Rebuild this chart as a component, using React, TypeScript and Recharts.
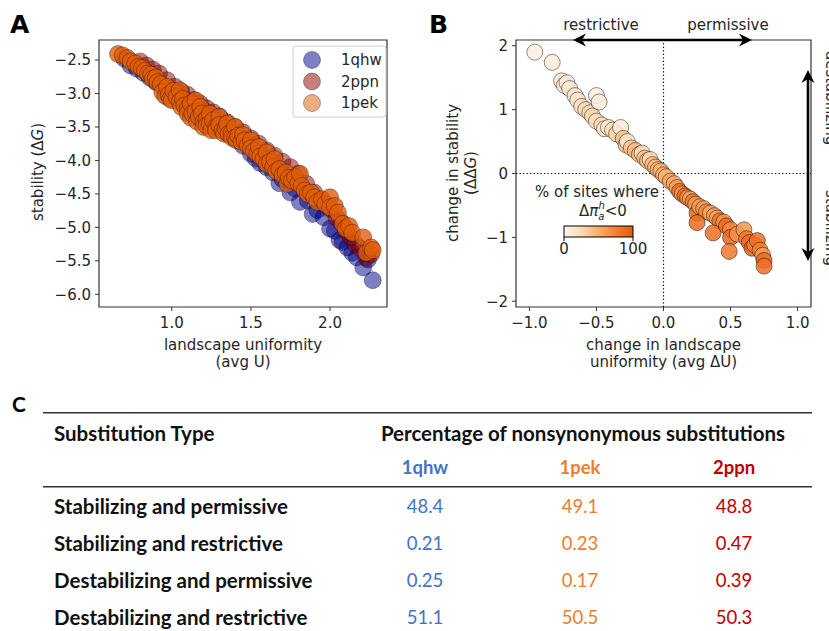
import React from 'react';
import { ScatterChart, Scatter, XAxis, YAxis, ReferenceLine, ReferenceArea } from 'recharts';

// ---------- Panel A data: [avg U, ΔG] ----------
const seriesNames = ['1qhw', '2ppn', '1pek'];
const seriesColors = ['#00008b', '#8b0000', '#e05c08'];

const qhwPoints: [number, number][] = [
  [0.70, -2.48], [0.74, -2.58], [0.78, -2.63], [0.82, -2.69], [0.86, -2.76], [0.90, -2.83], [0.95, -2.93],
  [1.00, -3.02], [1.05, -3.12], [1.10, -3.22], [1.15, -3.30], [1.20, -3.38], [1.25, -3.45], [1.30, -3.52],
  [1.35, -3.60], [1.40, -3.68], [1.45, -3.78], [1.50, -3.90], [1.53, -3.97], [1.56, -4.04], [1.60, -4.10],
  [1.64, -4.18], [1.68, -4.34], [1.70, -4.28], [1.75, -4.48], [1.78, -4.42], [1.81, -4.62], [1.86, -4.60],
  [1.89, -4.80], [1.92, -4.74], [1.96, -4.85], [2.00, -5.02], [2.03, -5.05], [2.06, -5.19], [2.08, -5.22],
  [2.11, -5.30], [2.14, -5.38], [2.17, -5.45], [2.21, -5.60], [2.24, -5.48], [2.27, -5.79],
];

const ppnPoints: [number, number][] = [
  [0.80, -2.52], [0.84, -2.58], [0.88, -2.64], [0.92, -2.70], [0.97, -2.80], [1.02, -2.90], [1.06, -2.97],
  [1.10, -3.02], [1.14, -3.10], [1.18, -3.15], [1.22, -3.22], [1.26, -3.28], [1.30, -3.34], [1.35, -3.43],
  [1.40, -3.50], [1.45, -3.58], [1.50, -3.67], [1.55, -3.75], [1.60, -3.85], [1.65, -3.93], [1.70, -4.02],
  [1.75, -4.10], [1.80, -4.20], [1.85, -4.35], [1.90, -4.48], [1.95, -4.60], [2.00, -4.72], [2.04, -4.85],
  [2.07, -4.92], [2.10, -5.05], [2.13, -5.15], [2.16, -5.25], [2.19, -5.31], [2.23, -5.45], [2.26, -5.40],
];

const pekPoints: [number, number][] = [
  [0.66, -2.41], [0.69, -2.43], [0.72, -2.47], [0.74, -2.52], [0.77, -2.55], [0.79, -2.60], [0.81, -2.62],
  [0.83, -2.66], [0.85, -2.70], [0.87, -2.72], [0.88, -2.78], [0.90, -2.76], [0.91, -2.83], [0.93, -2.86],
  [0.94, -2.98], [0.96, -3.04], [0.97, -2.90], [0.98, -3.02], [0.99, -3.08], [1.00, -3.10], [1.01, -2.96],
  [1.03, -3.05], [1.05, -2.95], [1.05, -3.12], [1.06, -3.20], [1.07, -3.08], [1.08, -3.18], [1.10, -3.22],
  [1.10, -3.30], [1.12, -3.15], [1.12, -3.36], [1.13, -3.30], [1.15, -3.10], [1.15, -3.27], [1.16, -3.42],
  [1.17, -3.35], [1.18, -3.20], [1.19, -3.30], [1.20, -3.42], [1.20, -3.50], [1.22, -3.38], [1.22, -3.48],
  [1.24, -3.30], [1.24, -3.45], [1.25, -3.55], [1.26, -3.40], [1.28, -3.50], [1.28, -3.55], [1.30, -3.35],
  [1.30, -3.47], [1.32, -3.55], [1.33, -3.60], [1.34, -3.52], [1.35, -3.45], [1.36, -3.60], [1.38, -3.58],
  [1.38, -3.66], [1.40, -3.50], [1.40, -3.66], [1.41, -3.70], [1.42, -3.63], [1.44, -3.72], [1.45, -3.62],
  [1.46, -3.70], [1.48, -3.78], [1.50, -3.70], [1.50, -3.82], [1.52, -3.86], [1.54, -3.90], [1.55, -3.80],
  [1.56, -3.94], [1.58, -3.98], [1.60, -3.88], [1.60, -4.05], [1.62, -4.02], [1.64, -4.10], [1.65, -3.98],
  [1.66, -4.16], [1.68, -4.13], [1.70, -4.22], [1.72, -4.18], [1.73, -4.35], [1.74, -4.26], [1.76, -4.30],
  [1.78, -4.25], [1.80, -4.34], [1.81, -4.20], [1.82, -4.38], [1.84, -4.45], [1.86, -4.50], [1.88, -4.48],
  [1.90, -4.55], [1.92, -4.62], [1.95, -4.58], [1.97, -4.65], [2.00, -4.55], [2.00, -4.70], [2.03, -4.68],
  [2.05, -4.78], [2.08, -4.95], [2.10, -5.02], [2.12, -4.98], [2.14, -5.08], [2.21, -5.15], [2.23, -5.38],
  [2.26, -5.30], [2.27, -5.34],
];

const aXTicks = [1.0, 1.5, 2.0];
const aYTicks = [-6.0, -5.5, -5.0, -4.5, -4.0, -3.5, -3.0, -2.5];

// ---------- Panel B data: [avg ΔU, ΔΔG, % of sites where Δπ<0] ----------
const bPoints: [number, number, number][] = [
  [-0.96, 1.90, 5], [-0.83, 1.74, 8], [-0.76, 1.45, 10], [-0.74, 1.38, 12], [-0.72, 1.42, 6], [-0.70, 1.33, 15],
  [-0.66, 1.22, 12], [-0.64, 1.15, 18], [-0.61, 1.05, 20], [-0.58, 1.00, 25], [-0.55, 0.95, 22], [-0.53, 0.90, 28],
  [-0.50, 1.22, 5], [-0.48, 1.12, 8], [-0.50, 0.82, 20], [-0.46, 0.76, 25], [-0.44, 0.70, 18], [-0.41, 0.72, 10],
  [-0.38, 0.68, 22], [-0.35, 0.62, 30], [-0.32, 0.72, 8], [-0.30, 0.55, 40], [-0.28, 0.45, 42], [-0.27, 0.50, 12],
  [-0.24, 0.40, 38], [-0.21, 0.36, 42], [-0.18, 0.30, 45], [-0.16, 0.32, 20], [-0.14, 0.24, 40], [-0.12, 0.20, 44],
  [-0.10, 0.22, 25], [-0.08, 0.14, 42], [-0.06, 0.10, 46], [-0.04, 0.06, 45], [-0.02, 0.04, 48], [0.00, -0.02, 50],
  [0.02, -0.05, 48], [0.05, -0.12, 55], [0.08, -0.16, 52], [0.10, -0.22, 60], [0.12, -0.28, 85], [0.14, -0.32, 58],
  [0.16, -0.35, 90], [0.18, -0.38, 65], [0.20, -0.40, 55], [0.22, -0.44, 80], [0.24, -0.48, 62], [0.25, -0.62, 90],
  [0.27, -0.52, 60], [0.30, -0.55, 58], [0.32, -0.60, 70], [0.35, -0.62, 55], [0.38, -0.66, 60], [0.40, -0.70, 55],
  [0.42, -0.74, 85], [0.45, -0.76, 62], [0.25, -0.77, 88], [0.37, -0.93, 85], [0.47, -0.82, 90], [0.50, -0.88, 70],
  [0.50, -1.00, 92], [0.55, -0.95, 65], [0.60, -0.88, 62], [0.62, -1.02, 80], [0.64, -1.08, 88], [0.66, -1.17, 95],
  [0.68, -1.12, 70], [0.70, -1.05, 85], [0.72, -1.20, 75], [0.74, -1.28, 60], [0.75, -1.36, 90], [0.75, -1.45, 85],
  [0.49, -1.22, 80],
];

const bXTicks = [-1.0, -0.5, 0.0, 0.5, 1.0];
const bYTicks = [-2, -1, 0, 1, 2];
const colorbarTicks = [0, 100];

// ---------- Panel C table ----------
const tableRowLabels = [
  'Stabilizing and permissive',
  'Stabilizing and restrictive',
  'Destabilizing and permissive',
  'Destabilizing and restrictive',
];
const tableColumns = ['1qhw', '1pek', '2ppn'];
const tableColumnColors = ['#4472c4', '#ed7d31', '#c00000'];
const values1qhw = ['48.4', '0.21', '0.25', '51.1'];
const values1pek = ['49.1', '0.23', '0.17', '50.5'];
const values2ppn = ['48.8', '0.47', '0.39', '50.3'];

// ---------- helpers ----------
const FONT = 'DejaVu Sans';
const TXT = '#262626';
const cmapStops: [number, string][] = [
  [0, '#fff5eb'], [0.25, '#fddab6'], [0.5, '#fcae6c'], [0.75, '#f47f33'], [1, '#e25a12'],
];
function hexToRgb(h: string) {
  return [parseInt(h.slice(1, 3), 16), parseInt(h.slice(3, 5), 16), parseInt(h.slice(5, 7), 16)];
}
function cmap(t: number) {
  const v = Math.max(0, Math.min(1, t));
  for (let i = 1; i < cmapStops.length; i++) {
    if (v <= cmapStops[i][0]) {
      const [t0, c0] = cmapStops[i - 1];
      const [t1, c1] = cmapStops[i];
      const f = (v - t0) / (t1 - t0);
      const a = hexToRgb(c0), b = hexToRgb(c1);
      const r = a.map((x, k) => Math.round(x + (b[k] - x) * f));
      return `rgb(${r[0]},${r[1]},${r[2]})`;
    }
  }
  return cmapStops[cmapStops.length - 1][1];
}
const fmt = (d: number) => (v: number) => v.toFixed(d).replace('-', '\u2212');
const toXY = (arr: [number, number][]) => arr.map(([x, y]) => ({ x, y }));
const seriesOpacity = [0.5, 0.5, 0.78];

const makeDot = (fill: string, op: number) => (props: any) =>
  props.cx == null ? <g /> : (
    <circle cx={props.cx} cy={props.cy} r={8.5} fill={fill} fillOpacity={op}
      stroke="#000" strokeOpacity={0.4} strokeWidth={0.8} />
  );
const bDot = (props: any) =>
  props.cx == null ? <g /> : (
    <circle cx={props.cx} cy={props.cy} r={8} fill={cmap(props.payload.p / 100)} fillOpacity={0.85}
      stroke="#000" strokeOpacity={0.5} strokeWidth={0.9} />
  );

const tickStyle = { fill: TXT, fontSize: 15, fontFamily: FONT };
const frameColor = '#333';

function arrowHead(tx: number, ty: number, dx: number, dy: number) {
  const L = 13, W = 6.5, notch = 4;
  const px = -dy, py = dx;
  const bx = tx - dx * L, by = ty - dy * L;
  const nx = tx - dx * (L - notch), ny = ty - dy * (L - notch);
  return `${tx},${ty} ${bx + px * W},${by + py * W} ${nx},${ny} ${bx - px * W},${by - py * W}`;
}

export default function App() {
  const aSeries = [toXY(qhwPoints), toXY(ppnPoints), toXY(pekPoints)];
  const bData = bPoints.map(([x, y, p]) => ({ x, y, p }));
  const colValues = [values1qhw, values1pek, values2ppn];
  const colX = [425, 580, 734];
  const rowY = [506, 543, 580, 617];

  return (
    <div style={{ position: 'absolute', left: 0, top: 0, width: 829, height: 631, background: '#fff', overflow: 'hidden' }}>
      {/* Panel A */}
      <div style={{ position: 'absolute', left: 0, top: 0 }}>
        <ScatterChart width={400} height={380} margin={{ top: 40, right: 13, bottom: 0, left: 0 }}>
          <XAxis type="number" dataKey="x" domain={[0.54, 2.36]} ticks={aXTicks} allowDataOverflow
            tickFormatter={fmt(1)} tick={tickStyle} tickSize={4} tickMargin={6} height={73}
            axisLine={false} tickLine={{ stroke: frameColor }} />
          <YAxis type="number" dataKey="y" domain={[-6.19, -2.2]} ticks={aYTicks} allowDataOverflow
            tickFormatter={fmt(1)} tick={tickStyle} tickSize={4} tickMargin={4} width={99}
            axisLine={false} tickLine={{ stroke: frameColor }} />
          <ReferenceArea x1={0.54} x2={2.36} y1={-6.19} y2={-2.2} fill="none" stroke={frameColor} strokeWidth={1.2} />
          {aSeries.map((d, i) => (
            <Scatter key={seriesNames[i]} name={seriesNames[i]} data={d} shape={makeDot(seriesColors[i], seriesOpacity[i])} isAnimationActive={false} />
          ))}
        </ScatterChart>
      </div>

      {/* Panel B */}
      <div style={{ position: 'absolute', left: 410, top: 0 }}>
        <ScatterChart width={419} height={380} margin={{ top: 40, right: 18, bottom: 0, left: 0 }}>
          <XAxis type="number" dataKey="x" domain={[-1.1, 1.1]} ticks={bXTicks} allowDataOverflow
            tickFormatter={fmt(1)} tick={tickStyle} tickSize={4} tickMargin={6} height={73}
            axisLine={false} tickLine={{ stroke: frameColor }} />
          <YAxis type="number" dataKey="y" domain={[-2.09, 2.09]} ticks={bYTicks} allowDataOverflow
            tickFormatter={fmt(0)} tick={tickStyle} tickSize={4} tickMargin={4} width={106}
            axisLine={false} tickLine={{ stroke: frameColor }} />
          <ReferenceArea x1={-1.1} x2={1.1} y1={-2.09} y2={2.09} fill="none" stroke={frameColor} strokeWidth={1.2} />
          <ReferenceLine x={0} stroke="#000" strokeWidth={1.2} strokeDasharray="1.3 2.2" />
          <ReferenceLine y={0} stroke="#000" strokeWidth={1.2} strokeDasharray="1.3 2.2" />
          <Scatter name="sites" data={bData} shape={bDot} isAnimationActive={false} />
        </ScatterChart>
      </div>

      {/* Overlay: panel letters, axis labels, legend, colorbar, arrows, table */}
      <svg width={829} height={631} style={{ position: 'absolute', left: 0, top: 0, pointerEvents: 'none' }}>
        <defs>
          <linearGradient id="cbar" x1="0" x2="1" y1="0" y2="0">
            {cmapStops.map(([t, c]) => <stop key={t} offset={t} stopColor={c} />)}
          </linearGradient>
        </defs>
        <text x={10} y={33} fontFamily={FONT} fontWeight="bold" fontSize={25} fill="#000">A</text>
        <text x={429} y={33} fontFamily={FONT} fontWeight="bold" fontSize={25} fill="#000">B</text>

        {/* Panel A labels */}
        <g fontFamily={FONT} fontSize={15} fill={TXT} textAnchor="middle">
          <text x={243} y={350}>landscape uniformity</text>
          <text x={243} y={367}>(avg U)</text>
          <text transform="translate(43,172) rotate(-90)">stability (Δ<tspan fontStyle="italic">G</tspan>)</text>
        </g>
        {/* Panel A legend */}
        <rect x={293} y={46} width={93} height={71} rx={3} fill="#fff" fillOpacity={0.8} stroke="#ccc" />
        {seriesNames.map((n, i) => (
          <g key={n}>
            <circle cx={312} cy={60 + i * 21.5} r={8.5} fill={seriesColors[i]} fillOpacity={0.5} stroke="#000" strokeOpacity={0.4} strokeWidth={0.8} />
            <text x={341} y={65 + i * 21.5} fontFamily={FONT} fontSize={15} fill={TXT}>{n}</text>
          </g>
        ))}

        {/* Panel B labels */}
        <g fontFamily={FONT} fontSize={15} fill={TXT} textAnchor="middle">
          <text x={663.5} y={350}>change in landscape</text>
          <text x={663.5} y={367}>uniformity (avg ΔU)</text>
          <text transform="translate(458,173) rotate(-90)">change in stability</text>
          <text transform="translate(476,173) rotate(-90)">(ΔΔ<tspan fontStyle="italic">G</tspan>)</text>
          <text x={601} y={30}>restrictive</text>
          <text x={728} y={30}>permissive</text>
          <text transform="translate(825.5,98) rotate(90)">destabilizing</text>
          <text transform="translate(825.5,228) rotate(90)">stabilizing</text>
        </g>
        {/* arrows */}
        <line x1={580} y1={40} x2={745} y2={40} stroke="#000" strokeWidth={2.6} />
        <polygon points={arrowHead(573, 40, -1, 0)} fill="#000" />
        <polygon points={arrowHead(752, 40, 1, 0)} fill="#000" />
        <line x1={808} y1={77} x2={808} y2={254} stroke="#000" strokeWidth={2.6} />
        <polygon points={arrowHead(808, 70, 0, -1)} fill="#000" />
        <polygon points={arrowHead(808, 261, 0, 1)} fill="#000" />

        {/* colorbar */}
        <g fontFamily={FONT} fontSize={15} fill={TXT}>
          <text x={597} y={197} textAnchor="middle">% of sites where</text>
          <text x={579} y={216}>Δ<tspan fontStyle="italic">π</tspan><tspan fontSize={10} fontStyle="italic" dy={4}>a</tspan><tspan fontSize={10} fontStyle="italic" dx={-6} dy={-11}>h</tspan><tspan dy={7}>&lt;0</tspan></text>
        </g>
        <rect x={564} y={226} width={69} height={11} fill="url(#cbar)" stroke="#000" strokeWidth={1} />
        {colorbarTicks.map((t) => {
          const x = 564 + (t / 100) * 69;
          return (
            <g key={t}>
              <line x1={x} y1={237} x2={x} y2={241} stroke="#000" />
              <text x={x} y={254} textAnchor="middle" fontFamily={FONT} fontSize={15} fill={TXT}>{t}</text>
            </g>
          );
        })}

        {/* Panel C table */}
        <text x={12} y={412} fontFamily="Lato" fontWeight="bold" fontSize={21} fill="#000">C</text>
        <line x1={43} y1={412.7} x2={812} y2={412.7} stroke="#333" strokeWidth={1.6} />
        <line x1={43} y1={486.7} x2={812} y2={486.7} stroke="#333" strokeWidth={1.6} />
        <g fontFamily="Lato" dominantBaseline="central">
          <text x={54} y={433} fontSize={20.5} fontWeight="bold" fill="#111">Substitution Type</text>
          <text x={583} y={433} fontSize={20.5} fontWeight="bold" fill="#111" textAnchor="middle">Percentage of nonsynonymous substitutions</text>
          {tableColumns.map((c, j) => (
            <text key={c} x={colX[j]} y={467} fontSize={18.5} fontWeight="bold" fill={tableColumnColors[j]} textAnchor="middle">{c}</text>
          ))}
          {tableRowLabels.map((r, i) => (
            <g key={r}>
              <text x={54} y={rowY[i]} fontSize={20.5} fontWeight="bold" fill="#111">{r}</text>
              {colValues.map((vals, j) => (
                <text key={j} x={colX[j]} y={rowY[i]} fontSize={18.5} fill={tableColumnColors[j]} textAnchor="middle">{vals[i]}</text>
              ))}
            </g>
          ))}
        </g>
      </svg>
    </div>
  );
}
